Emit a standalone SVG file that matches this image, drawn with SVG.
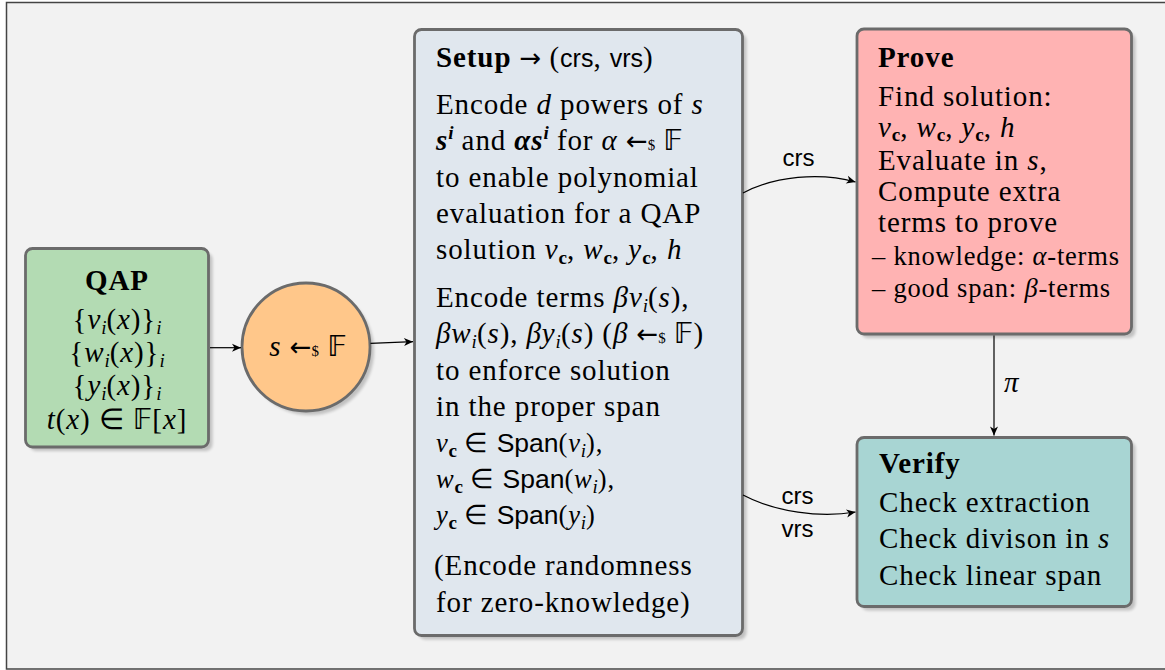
<svg xmlns="http://www.w3.org/2000/svg" width="1165" height="670" viewBox="0 0 1165 670">
<defs>
<style>
.t{font-family:"Liberation Serif","Times New Roman",serif;font-size:29px;letter-spacing:0.9px;fill:#000}
.sm{font-size:26.5px;letter-spacing:0.8px}
.b{font-weight:bold}
.i{font-style:italic}
.bi{font-weight:bold;font-style:italic}
.sf{font-family:"Liberation Sans",Arial,sans-serif;letter-spacing:0}
.sf2{font-family:"Liberation Sans",Arial,sans-serif;letter-spacing:0;font-size:25px}
.bb{font-family:"DejaVu Sans",sans-serif;font-style:normal;font-weight:normal;letter-spacing:0}
.ar{font-family:"DejaVu Sans",sans-serif;font-style:normal;font-weight:normal;letter-spacing:0;font-size:26px}
.sub{font-size:19px;letter-spacing:0}
.dol{font-size:15px;letter-spacing:0}
.lab{font-family:"Liberation Sans",Arial,sans-serif;font-size:24px;fill:#000}
.node{stroke:#6b6b6b;stroke-width:2.8}
.shadow{fill:#000;opacity:0.2}
.conn{fill:none;stroke:#000;stroke-width:1.2}
</style>
<filter id="blur" x="-10%" y="-10%" width="130%" height="130%"><feGaussianBlur stdDeviation="1.5"/></filter>
<marker id="ah" viewBox="-10 -5 12 10" refX="0" refY="0" markerWidth="12" markerHeight="10" markerUnits="userSpaceOnUse" orient="auto"><path d="M-9,-4 L0,0 L-9,4 L-6.5,0 z" fill="#000"/></marker>
</defs>
<rect x="6.5" y="2.5" width="1165" height="666.5" fill="#f2f2f2" stroke="#444" stroke-width="1.5"/>

<g id="qap">
<rect class="shadow" x="29.5" y="252.5" width="183" height="198.5" rx="7" filter="url(#blur)"/>
<rect class="node" x="25.5" y="248.5" width="183" height="198.5" rx="7" fill="#b3dbb3"/>
<text class="t b" x="117" y="290" text-anchor="middle">QAP</text>
<text class="t" x="117" y="329" text-anchor="middle">{<tspan class="i">v</tspan><tspan class="i sub" dy="5">i</tspan><tspan dy="-5">(</tspan><tspan class="i">x</tspan>)}<tspan class="i sub" dy="5">i</tspan></text>
<text class="t" x="117" y="362" text-anchor="middle">{<tspan class="i">w</tspan><tspan class="i sub" dy="5">i</tspan><tspan dy="-5">(</tspan><tspan class="i">x</tspan>)}<tspan class="i sub" dy="5">i</tspan></text>
<text class="t" x="117" y="395" text-anchor="middle">{<tspan class="i">y</tspan><tspan class="i sub" dy="5">i</tspan><tspan dy="-5">(</tspan><tspan class="i">x</tspan>)}<tspan class="i sub" dy="5">i</tspan></text>
<text class="t" x="117" y="429" text-anchor="middle"><tspan class="i">t</tspan>(<tspan class="i">x</tspan>) ∈ <tspan class="bb">𝔽</tspan>[<tspan class="i">x</tspan>]</text>
</g>

<g id="sample">
<circle class="shadow" cx="310" cy="351" r="64" filter="url(#blur)"/>
<circle class="node" cx="306" cy="347" r="64" fill="#ffc78a"/>
<text class="t" x="308" y="356" text-anchor="middle"><tspan class="i">s</tspan> <tspan class="ar">←</tspan><tspan class="dol">$</tspan> <tspan class="bb">𝔽</tspan></text>
</g>

<g id="setup">
<rect class="shadow" x="418.5" y="33.5" width="328" height="606" rx="7" filter="url(#blur)"/>
<rect class="node" x="414.5" y="29.5" width="328" height="606" rx="7" fill="#e0e7ee"/>
<text class="t" x="436" y="67"><tspan class="b">Setup</tspan> <tspan class="ar">→</tspan> (<tspan class="sf2">crs</tspan>, <tspan class="sf2">vrs</tspan>)</text>
<text class="t" x="436" y="114">Encode <tspan class="i">d</tspan> powers of <tspan class="i">s</tspan></text>
<text class="t" x="436" y="150"><tspan class="bi">s</tspan><tspan class="bi sub" dy="-11">i</tspan><tspan dy="11"> and </tspan><tspan class="bi">αs</tspan><tspan class="bi sub" dy="-11">i</tspan><tspan dy="11"> for </tspan><tspan class="i">α</tspan> <tspan class="ar">←</tspan><tspan class="dol">$</tspan> <tspan class="bb">𝔽</tspan></text>
<text class="t" x="436" y="187">to enable polynomial</text>
<text class="t" x="436" y="223">evaluation for a QAP</text>
<text class="t" x="436" y="259">solution <tspan class="i">v</tspan><tspan class="b sub" dy="5">c</tspan><tspan dy="-5">, </tspan><tspan class="i">w</tspan><tspan class="b sub" dy="5">c</tspan><tspan dy="-5">, </tspan><tspan class="i">y</tspan><tspan class="b sub" dy="5">c</tspan><tspan dy="-5">, </tspan><tspan class="i">h</tspan></text>
<text class="t" x="436" y="307">Encode terms <tspan class="i">βv</tspan><tspan class="i sub" dy="5">i</tspan><tspan dy="-5">(</tspan><tspan class="i">s</tspan>),</text>
<text class="t" x="436" y="343"><tspan class="i">βw</tspan><tspan class="i sub" dy="5">i</tspan><tspan dy="-5">(</tspan><tspan class="i">s</tspan>), <tspan class="i">βy</tspan><tspan class="i sub" dy="5">i</tspan><tspan dy="-5">(</tspan><tspan class="i">s</tspan>) (<tspan class="i">β</tspan> <tspan class="ar">←</tspan><tspan class="dol">$</tspan> <tspan class="bb">𝔽</tspan>)</text>
<text class="t" x="436" y="380">to enforce solution</text>
<text class="t" x="436" y="416">in the proper span</text>
<text class="t sm" x="436" y="452"><tspan class="i">v</tspan><tspan class="b sub" dy="5">c</tspan><tspan dy="-5"> ∈ </tspan><tspan class="sf">Span</tspan>(<tspan class="i">v</tspan><tspan class="i sub" dy="5">i</tspan><tspan dy="-5">),</tspan></text>
<text class="t sm" x="436" y="488"><tspan class="i">w</tspan><tspan class="b sub" dy="5">c</tspan><tspan dy="-5"> ∈ </tspan><tspan class="sf">Span</tspan>(<tspan class="i">w</tspan><tspan class="i sub" dy="5">i</tspan><tspan dy="-5">),</tspan></text>
<text class="t sm" x="436" y="524"><tspan class="i">y</tspan><tspan class="b sub" dy="5">c</tspan><tspan dy="-5"> ∈ </tspan><tspan class="sf">Span</tspan>(<tspan class="i">y</tspan><tspan class="i sub" dy="5">i</tspan><tspan dy="-5">)</tspan></text>
<text class="t" x="434" y="575">(Encode randomness</text>
<text class="t" x="436" y="612">for zero-knowledge)</text>
</g>

<g id="prove">
<rect class="shadow" x="861" y="33" width="274.5" height="305" rx="7" filter="url(#blur)"/>
<rect class="node" x="857" y="29" width="274.5" height="305" rx="7" fill="#ffb3b3"/>
<text class="t b" x="878" y="67">Prove</text>
<text class="t" x="878" y="106">Find solution:</text>
<text class="t" x="878" y="137"><tspan class="i">v</tspan><tspan class="b sub" dy="4">c</tspan><tspan dy="-4">, </tspan><tspan class="i">w</tspan><tspan class="b sub" dy="4">c</tspan><tspan dy="-4">, </tspan><tspan class="i">y</tspan><tspan class="b sub" dy="4">c</tspan><tspan dy="-4">, </tspan><tspan class="i">h</tspan></text>
<text class="t" x="878" y="170">Evaluate in <tspan class="i">s</tspan>,</text>
<text class="t" x="878" y="201">Compute extra</text>
<text class="t" x="878" y="232">terms to prove</text>
<text class="t sm" x="872" y="265">– knowledge: <tspan class="i">α</tspan>-terms</text>
<text class="t sm" x="872" y="297">– good span: <tspan class="i">β</tspan>-terms</text>
</g>

<g id="verify">
<rect class="shadow" x="861" y="441.5" width="274.5" height="169" rx="7" filter="url(#blur)"/>
<rect class="node" x="857" y="437.5" width="274.5" height="169" rx="7" fill="#a8d5d3"/>
<text class="t b" x="879" y="473">Verify</text>
<text class="t" x="879" y="512">Check extraction</text>
<text class="t" x="879" y="548">Check divison in <tspan class="i">s</tspan></text>
<text class="t" x="879" y="585">Check linear span</text>
</g>

<g id="connectors">
<path class="conn" d="M210,347.7 L241,347.7" marker-end="url(#ah)"/>
<path class="conn" d="M370.5,343.3 L413,341.7" marker-end="url(#ah)"/>
<path class="conn" d="M743,193 C775,176 820,172 855.5,182" marker-end="url(#ah)"/>
<path class="conn" d="M743,495 C775,512 820,518 855.5,512" marker-end="url(#ah)"/>
<path class="conn" d="M994,335.5 L994,435.5" marker-end="url(#ah)"/>
<text class="lab" x="798.5" y="166" text-anchor="middle">crs</text>
<text class="lab" x="797.5" y="504" text-anchor="middle">crs</text>
<text class="lab" x="797.5" y="537" text-anchor="middle">vrs</text>
<text class="t i" x="1004" y="392">π</text>
</g>
</svg>
